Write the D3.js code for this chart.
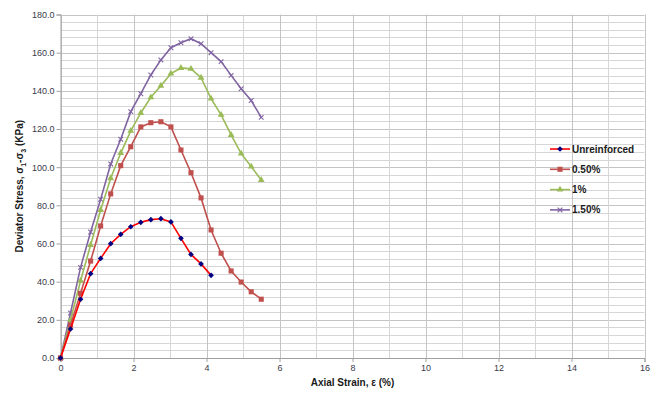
<!DOCTYPE html>
<html>
<head>
<meta charset="utf-8">
<script src="https://cdn.jsdelivr.net/npm/d3@7"></script>
<style>
  body { margin: 0; background: #fff; }
  svg { display: block; font-family: "Liberation Sans", Arial, sans-serif; }
</style>
</head>
<body>
<svg id="chart" width="657" height="393"></svg>
<script>
// strain readings (%), one step = 0.275
const strain = [0, 0.275, 0.55, 0.825, 1.1, 1.375, 1.65, 1.925, 2.2, 2.475, 2.75,
  3.025, 3.3, 3.575, 3.85, 4.125, 4.4, 4.675, 4.95, 5.225, 5.5];

const unreinforced = [0, 15.2, 30.8, 44.2, 52.2, 59.9, 64.8, 68.8, 71.1, 72.5, 73.0,
  71.3, 62.7, 54.3, 49.3, 43.3];
const half = [0, 17.3, 33.9, 50.8, 69.2, 86.0, 100.8, 110.7, 121.1, 123.3, 123.8,
  121.1, 109.0, 97.1, 83.9, 67.1, 54.9, 45.6, 39.8, 34.7, 30.8];
const one = [0, 20.0, 40.5, 59.2, 77.6, 94.2, 107.4, 119.0, 128.4, 136.6, 142.7,
  149.0, 152.0, 151.5, 146.9, 135.9, 127.4, 116.9, 107.1, 100.3, 93.3];
const oneHalf = [0, 23.6, 47.5, 66.0, 83.2, 101.7, 114.6, 129.1, 138.5, 148.3, 156.2,
  162.6, 165.2, 167.3, 164.7, 160.0, 155.3, 148.1, 141.1, 134.9, 126.1];

const seriesNames = ["Unreinforced", "0.50%", "1%", "1.50%"];
const xTicks = [0, 2, 4, 6, 8, 10, 12, 14, 16];
const yTicks = [0, 20, 40, 60, 80, 100, 120, 140, 160, 180];

const series = [
  { name: seriesNames[0], values: unreinforced, line: "#ff0000", fill: "#000080", marker: "diamond" },
  { name: seriesNames[1], values: half, line: "#c0504d", fill: "#c0504d", marker: "square" },
  { name: seriesNames[2], values: one, line: "#9bbb59", fill: "#9bbb59", marker: "triangle" },
  { name: seriesNames[3], values: oneHalf, line: "#8064a2", fill: "#8064a2", marker: "cross" },
];

const svg = d3.select("#chart");
const plot = { left: 60.5, right: 644.5, top: 14.5, bottom: 358 };

const x = d3.scaleLinear().domain([0, 16]).range([plot.left, plot.right]);
const y = d3.scaleLinear().domain([0, 180]).range([plot.bottom, plot.top]);

// gridlines (major 20 / minor 4 on y, 1 on x)
const grid = svg.append("g").attr("class", "grid");
grid.selectAll("line.h")
  .data(d3.range(0, 181, 4))
  .enter().append("line")
  .attr("x1", plot.left).attr("x2", plot.right)
  .attr("y1", (d) => Math.round(y(d)) + 0.5)
  .attr("y2", (d) => Math.round(y(d)) + 0.5)
  .attr("stroke", (d) => (d % 20 === 0 ? "#c4c4c4" : "#d6d6d6"))
  .attr("stroke-width", 1);
grid.selectAll("line.v")
  .data(d3.range(0, 17, 1))
  .enter().append("line")
  .attr("y1", plot.top).attr("y2", plot.bottom)
  .attr("x1", (d) => Math.round(x(d)) + 0.5)
  .attr("x2", (d) => Math.round(x(d)) + 0.5)
  .attr("stroke", (d) => (d % 2 === 0 ? "#c4c4c4" : "#d6d6d6"))
  .attr("stroke-width", 1);

// axes
const xAxis = svg.append("g")
  .attr("transform", `translate(0,${plot.bottom})`)
  .call(d3.axisBottom(x).tickValues(xTicks).tickSize(4).tickPadding(3));
const yAxis = svg.append("g")
  .attr("transform", `translate(${plot.left},0)`)
  .call(d3.axisLeft(y).tickValues(yTicks).tickSize(4).tickPadding(2).tickFormat(d3.format(".1f")));

[xAxis, yAxis].forEach((axis) => {
  axis.select(".domain").attr("stroke", "#a0a0a0");
  axis.selectAll(".tick line").attr("stroke", "#a0a0a0");
  axis.selectAll(".tick text")
    .attr("fill", "#3a3a4a")
    .attr("font-size", 9)
    .attr("font-family", "'Liberation Sans', Arial, sans-serif");
});

// lines + markers
const line = d3.line()
  .x((d, i) => x(strain[i]))
  .y((d) => y(d));

const symbolFor = {
  diamond: d3.symbol().type(d3.symbolSquare).size(16),
  square: d3.symbol().type(d3.symbolSquare).size(26),
  triangle: d3.symbol().type(d3.symbolTriangle).size(20),
  cross: d3.symbol().type(d3.symbolX).size(16),
};

function drawMarker(g, s) {
  const path = g.append("path").attr("d", symbolFor[s.marker]());
  if (s.marker === "cross") {
    path.attr("fill", "none").attr("stroke", s.fill).attr("stroke-width", 1.1);
  } else {
    path.attr("fill", s.fill);
  }
  if (s.marker === "diamond") path.attr("transform", "rotate(45)");
}

series.slice().reverse().forEach((s) => {
  const g = svg.append("g");
  g.append("path")
    .datum(s.values)
    .attr("fill", "none")
    .attr("stroke", s.line)
    .attr("stroke-width", 1.6)
    .attr("d", line);
  g.selectAll("g.pt")
    .data(s.values)
    .enter().append("g")
    .attr("transform", (d, i) => `translate(${x(strain[i])},${y(d)})`)
    .each(function () { drawMarker(d3.select(this), s); });
});

// legend
const legend = svg.append("g").attr("transform", "translate(550,149)");
series.forEach((s, i) => {
  const row = legend.append("g").attr("transform", `translate(0,${i * 20.3})`);
  row.append("line")
    .attr("x1", 0).attr("x2", 20)
    .attr("stroke", s.line).attr("stroke-width", 1.6);
  const m = row.append("g").attr("transform", "translate(10,0)");
  drawMarker(m, s);
  row.append("text")
    .attr("x", 22).attr("dy", "0.35em")
    .attr("font-size", 10).attr("font-weight", "bold")
    .attr("fill", "#1a1a1a")
    .text(s.name);
});

// axis titles
svg.append("text")
  .attr("x", (plot.left + plot.right) / 2).attr("y", 386)
  .attr("text-anchor", "middle")
  .attr("font-size", 10).attr("font-weight", "bold")
  .attr("fill", "#1a1a1a")
  .text("Axial Strain, ε (%)");

const yTitle = svg.append("text")
  .attr("transform", `translate(23,${(plot.top + plot.bottom) / 2}) rotate(-90)`)
  .attr("text-anchor", "middle")
  .attr("font-size", 10).attr("font-weight", "bold")
  .attr("fill", "#1a1a1a");
yTitle.append("tspan").text("Deviator Stress, σ");
yTitle.append("tspan").attr("font-size", 7).attr("dy", 3).text("1");
yTitle.append("tspan").attr("dy", -3).text("-σ");
yTitle.append("tspan").attr("font-size", 7).attr("dy", 3).text("3");
yTitle.append("tspan").attr("dy", -3).text(" (KPa)");
</script>
</body>
</html>
